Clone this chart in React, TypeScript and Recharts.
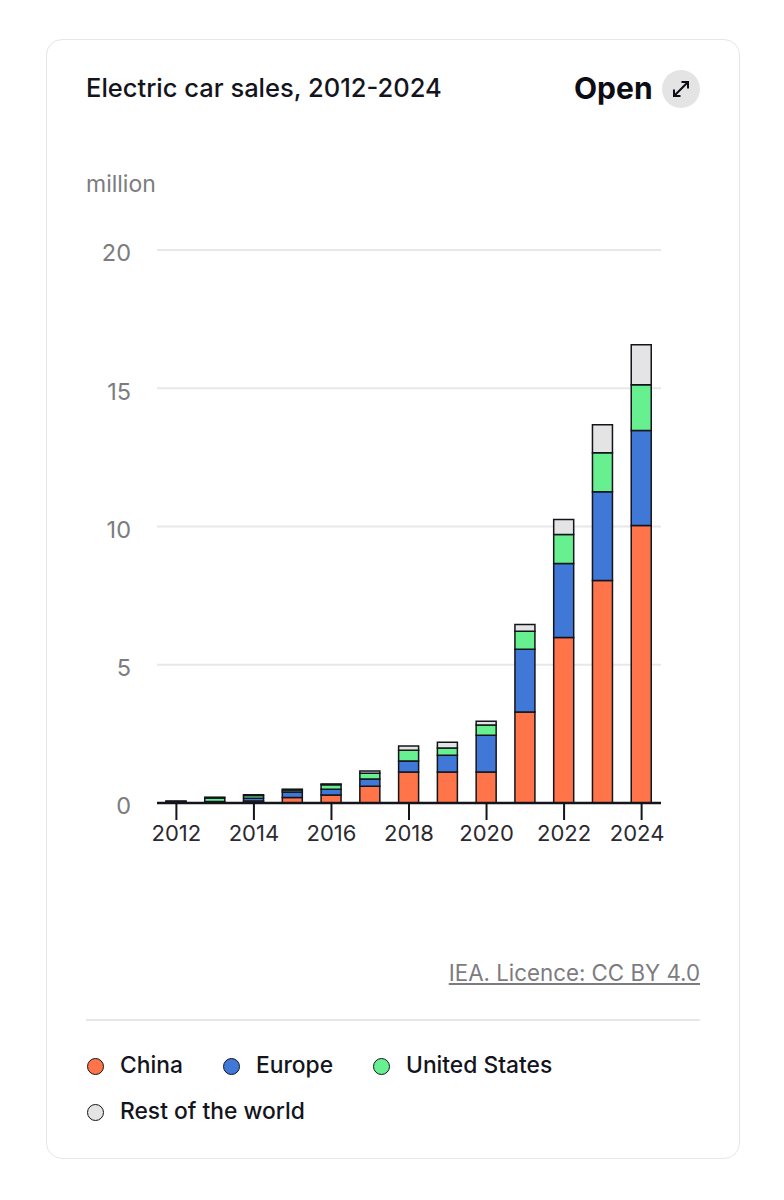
import React from "react";
import { BarChart, Bar, XAxis, YAxis, CartesianGrid } from "recharts";

const years = ["2012", "2013", "2014", "2015", "2016", "2017", "2018", "2019", "2020", "2021", "2022", "2023", "2024"];
const china = [0.01, 0.02, 0.07, 0.2, 0.29, 0.61, 1.12, 1.12, 1.12, 3.29, 5.99, 8.05, 10.04];
const europe = [0.02, 0.03, 0.1, 0.2, 0.21, 0.26, 0.4, 0.61, 1.33, 2.27, 2.67, 3.21, 3.43];
const unitedStates = [0.03, 0.13, 0.1, 0.07, 0.16, 0.21, 0.39, 0.26, 0.37, 0.65, 1.05, 1.41, 1.66];
const restOfWorld = [0.01, 0.03, 0.03, 0.03, 0.03, 0.08, 0.15, 0.21, 0.14, 0.25, 0.54, 1.01, 1.44];
const yTicks = [0, 5, 10, 15, 20];

const series = [
  { key: "china", name: "China", color: "#ff7449", values: china },
  { key: "europe", name: "Europe", color: "#3f78d6", values: europe },
  { key: "us", name: "United States", color: "#66f08f", values: unitedStates },
  { key: "rest", name: "Rest of the world", color: "#e4e4e4", values: restOfWorld },
];

const data = years.map((year, i) => {
  const row: Record<string, any> = { year };
  series.forEach((s) => {
    row[s.key] = s.values[i];
  });
  return row;
});

const FONT = "Inter, sans-serif";
const INK = "#14141c";

const legendSpots = [
  { left: 86, top: 1045, textLeft: 34 },
  { left: 222, top: 1045, textLeft: 34 },
  { left: 372, top: 1045, textLeft: 34 },
  { left: 86, top: 1091, textLeft: 34 },
];

const text = (
  left: number | undefined,
  top: number,
  size: number,
  weight: number,
  color: string,
  extra: React.CSSProperties = {}
): React.CSSProperties => ({
  position: "absolute",
  left,
  top,
  fontSize: size,
  fontWeight: weight,
  color,
  lineHeight: "40px",
  whiteSpace: "nowrap",
  ...extra,
});

// the last year label is pulled in so it stays inside the plot edge
const YearTick = ({ x, y, payload }: any) => (
  <text
    x={payload.value === "2024" ? x - 4.5 : x}
    y={y}
    dy={17}
    textAnchor="middle"
    fill="#2a2a30"
    fontSize={22}
    fontFamily={FONT}
  >
    {payload.value}
  </text>
);

export default function App() {
  return (
    <div style={{ position: "absolute", left: 0, top: 0, width: 784, height: 1200, background: "#fff", fontFamily: FONT }}>
      <div
        style={{
          position: "absolute",
          left: 46,
          top: 39,
          width: 692,
          height: 1118,
          border: "1.5px solid #e6e6e6",
          borderRadius: 16,
        }}
      />
      <div style={text(86, 68, 25.5, 500, INK)}>Electric car sales, 2012-2024</div>
      <div style={text(574, 68, 30, 700, "#0c0c14")}>Open</div>
      <div style={{ position: "absolute", left: 662, top: 70, width: 38, height: 38, borderRadius: 19, background: "#e4e4e4" }}>
        <svg width={38} height={38} viewBox="0 0 38 38" fill="none" stroke="#0c0c14" strokeWidth={2}>
          <path d="M12 26 L26 12 M19.5 12 H26 V18.5 M12 19.5 V26 H18.5" />
        </svg>
      </div>
      <div style={text(86, 164, 23, 400, "#7c7c80")}>million</div>

      <div style={{ position: "absolute", left: 0, top: 0 }}>
        <BarChart
          width={784}
          height={1200}
          data={data}
          barSize={20}
          margin={{ top: 250, right: 123, bottom: 357, left: 0 }}
        >
          <CartesianGrid vertical={false} stroke="#e8e8e8" strokeWidth={2} />
          <XAxis
            dataKey="year"
            height={40}
            interval={1}
            tickSize={17}
            tickMargin={4}
            stroke="#14141c"
            tickLine={{ stroke: "#14141c", strokeWidth: 2 }}
            axisLine={{ stroke: "#14141c", strokeWidth: 2.5 }}
            tick={<YearTick />}
          />
          <YAxis
            width={157}
            domain={[0, 20]}
            ticks={yTicks}
            axisLine={false}
            tickLine={false}
            tickMargin={20}
            tick={{ fill: "#7c7c80", fontSize: 23.5, fontFamily: FONT, dy: 3 }}
          />
          {series.map((s) => (
            <Bar
              key={s.key}
              dataKey={s.key}
              name={s.name}
              stackId="sales"
              fill={s.color}
              stroke="#14141c"
              strokeWidth={1.5}
              isAnimationActive={false}
            />
          ))}
        </BarChart>
      </div>

      <div style={text(undefined, 953, 22.3, 400, "#7c7c80", { right: 84, textDecoration: "underline" })}>
        IEA. Licence: CC BY 4.0
      </div>
      <div style={{ position: "absolute", left: 86, top: 1019, width: 614, height: 2, background: "#e8e8e8" }} />

      {series.map((s, i) => (
        <div key={s.key} style={{ position: "absolute", left: legendSpots[i].left, top: legendSpots[i].top, height: 40 }}>
          <span
            style={{
              position: "absolute",
              left: 1,
              top: 13,
              width: 15,
              height: 15,
              borderRadius: "50%",
              background: s.color,
              border: "1.5px solid #14141c",
            }}
          />
          <span style={text(legendSpots[i].textLeft, 0, 22.8, 500, INK)}>{s.name}</span>
        </div>
      ))}
    </div>
  );
}
